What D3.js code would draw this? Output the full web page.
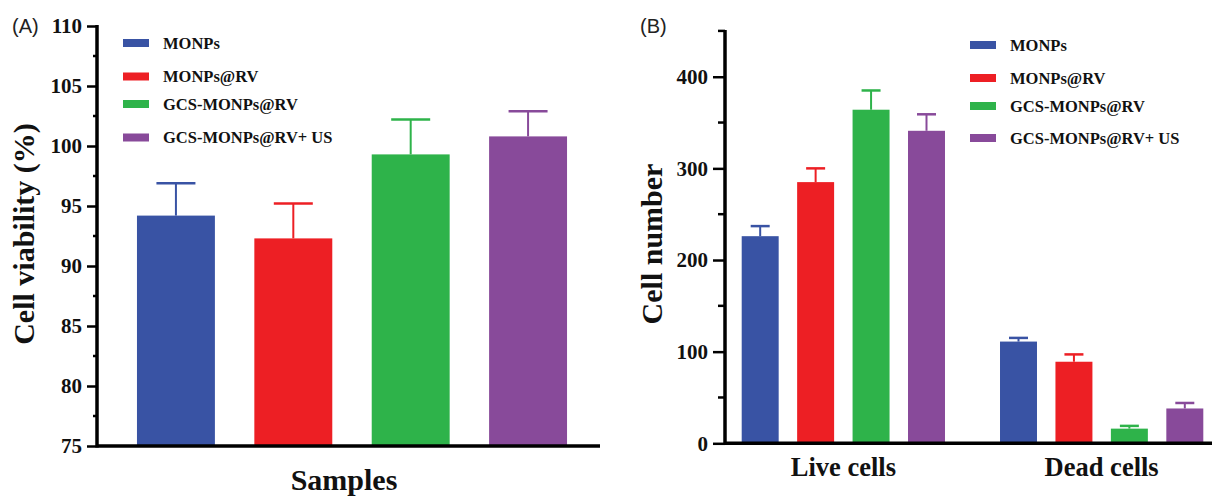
<!DOCTYPE html>
<html>
<head>
<meta charset="utf-8">
<script src="https://cdn.jsdelivr.net/npm/d3@7"></script>
<style>
  body { margin: 0; background: #fff; }
  svg { display: block; }
  .serif { font-family: "Liberation Serif", "Times New Roman", serif; font-weight: bold; fill: #111; }
  .panel { font-family: "Liberation Sans", Arial, sans-serif; fill: #222; }
</style>
</head>
<body>
<svg id="chart" width="1212" height="496"></svg>
<script>
// Data
const samples = ["MONPs", "MONPs@RV", "GCS-MONPs@RV", "GCS-MONPs@RV+ US"]
const colors = ["#3953a4", "#ed1f24", "#2eb34a", "#884a9a"]

// panel A: cell viability (%)
const viability = [94.2, 92.3, 99.3, 100.8]
const viabilityErr = [2.7, 2.9, 2.9, 2.1]
const viabilityTicks = [75, 80, 85, 90, 95, 100, 105, 110]

// panel B: cell number
const groups = ["Live cells", "Dead cells"]
const liveCounts = [226, 285, 364, 341]
const liveErr = [11, 15, 21, 18]
const deadCounts = [111, 89, 16, 38]
const deadErr = [4, 8, 3, 6]
const countTicks = [0, 100, 200, 300, 400]

const svg = d3.select("#chart")

function drawYAxis(g, y, major, minor, tickLen, minorLen, fontSize) {
    const ax = g.append("g")
        .call(d3.axisLeft(y).tickValues(major).tickSize(tickLen).tickPadding(5).tickFormat(d3.format("d")))
    ax.select(".domain").remove()
    ax.selectAll(".tick line").attr("stroke", "#000").attr("stroke-width", 2.5)
    ax.selectAll(".tick text").attr("class", "serif").style("font-size", fontSize + "px")
    g.selectAll(".minor").data(minor).enter().append("line")
        .attr("x1", -minorLen).attr("x2", 0)
        .attr("y1", d => y(d)).attr("y2", d => y(d))
        .attr("stroke", "#000").attr("stroke-width", 2.5)
    g.append("line")
        .attr("x1", 0).attr("x2", 0)
        .attr("y1", y(y.domain()[0]) + 1.5).attr("y2", y(y.domain()[1]) - 1)
        .attr("stroke", "#000").attr("stroke-width", 3.5)
}

function drawErrors(g, xs, tops, caps, capW, cols) {
    g.selectAll(null).data(tops).enter().append("line")
        .attr("x1", (d, i) => xs[i]).attr("x2", (d, i) => xs[i])
        .attr("y1", d => d).attr("y2", (d, i) => caps[i])
        .attr("stroke", (d, i) => cols[i]).attr("stroke-width", 2)
    g.selectAll(null).data(caps).enter().append("line")
        .attr("x1", (d, i) => xs[i] - capW / 2).attr("x2", (d, i) => xs[i] + capW / 2)
        .attr("y1", d => d).attr("y2", d => d)
        .attr("stroke", (d, i) => cols[i]).attr("stroke-width", 2.5)
}

function drawLegend(x, ys) {
    const lg = svg.append("g")
    samples.forEach((s, i) => {
        lg.append("rect").attr("x", x).attr("y", ys[i] - 4).attr("width", 26).attr("height", 8).attr("fill", colors[i])
        lg.append("text").attr("class", "serif").attr("x", x + 40).attr("y", ys[i] + 5.5)
            .style("font-size", "16.5px").text(s)
    })
}

// ---------- Panel A ----------
const yA = d3.scaleLinear().domain([75, 110]).range([446, 26])
const xA = d3.scaleBand().domain(samples).range([101.75, 602.25]).paddingInner(0.336).paddingOuter(0.3)
const gA = svg.append("g").attr("transform", "translate(97,0)")

svg.append("g").selectAll("rect").data(samples).enter().append("rect")
    .attr("x", d => xA(d)).attr("width", xA.bandwidth())
    .attr("y", (d, i) => yA(viability[i])).attr("height", (d, i) => yA(75) - yA(viability[i]))
    .attr("fill", (d, i) => colors[i])

drawErrors(svg.append("g"),
    samples.map(d => xA(d) + xA.bandwidth() / 2),
    viability.map(v => yA(v)),
    viability.map((v, i) => yA(v + viabilityErr[i])),
    39, colors)

drawYAxis(gA, yA, viabilityTicks, d3.range(77.5, 110, 5), 10, 4, 21)
svg.append("line").attr("x1", 97).attr("x2", 600).attr("y1", yA(75)).attr("y2", yA(75))
    .attr("stroke", "#000").attr("stroke-width", 3.5)

svg.append("text").attr("class", "serif").attr("transform", "translate(34,234) rotate(-90)")
    .attr("text-anchor", "middle").style("font-size", "30px").text("Cell viability (%)")
svg.append("text").attr("class", "serif").attr("x", 344).attr("y", 490)
    .attr("text-anchor", "middle").style("font-size", "30px").text("Samples")
svg.append("text").attr("class", "panel").attr("x", 12).attr("y", 33).style("font-size", "20px").text("(A)")

drawLegend(123, [43, 76.5, 104, 137.5])

// ---------- Panel B ----------
const yB = d3.scaleLinear().domain([0, 450]).range([443.3, 30.9])
const x0B = d3.scaleBand().domain(groups).range([726.2, 1218.8]).paddingInner(0.213).paddingOuter(0.06)
const x1B = d3.scaleBand().domain(samples).range([0, x0B.bandwidth()]).paddingInner(0.333)
const gB = svg.append("g").attr("transform", "translate(725,0)")

const countSets = [liveCounts, deadCounts]
const errSets = [liveErr, deadErr]
groups.forEach((grp, gi) => {
    const g = svg.append("g").attr("transform", `translate(${x0B(grp)},0)`)
    g.selectAll("rect").data(samples).enter().append("rect")
        .attr("x", d => x1B(d)).attr("width", x1B.bandwidth())
        .attr("y", (d, i) => yB(countSets[gi][i])).attr("height", (d, i) => yB(0) - yB(countSets[gi][i]))
        .attr("fill", (d, i) => colors[i])
    drawErrors(g,
        samples.map(d => x1B(d) + x1B.bandwidth() / 2),
        countSets[gi].map(v => yB(v)),
        countSets[gi].map((v, i) => yB(v + errSets[gi][i])),
        19, colors)
    svg.append("text").attr("class", "serif")
        .attr("x", x0B(grp) + x0B.bandwidth() / 2).attr("y", 476)
        .attr("text-anchor", "middle").style("font-size", "26.5px").text(grp)
})

drawYAxis(gB, yB, countTicks, [50, 150, 250, 350, 450], 12, 7, 21)
svg.append("line").attr("x1", 725).attr("x2", 1212).attr("y1", yB(0)).attr("y2", yB(0))
    .attr("stroke", "#000").attr("stroke-width", 3.5)

svg.append("text").attr("class", "serif").attr("transform", "translate(662,244) rotate(-90)")
    .attr("text-anchor", "middle").style("font-size", "30px").text("Cell number")
svg.append("text").attr("class", "panel").attr("x", 640).attr("y", 33).style("font-size", "20px").text("(B)")

drawLegend(970, [45, 78, 106, 138])
</script>
</body>
</html>
